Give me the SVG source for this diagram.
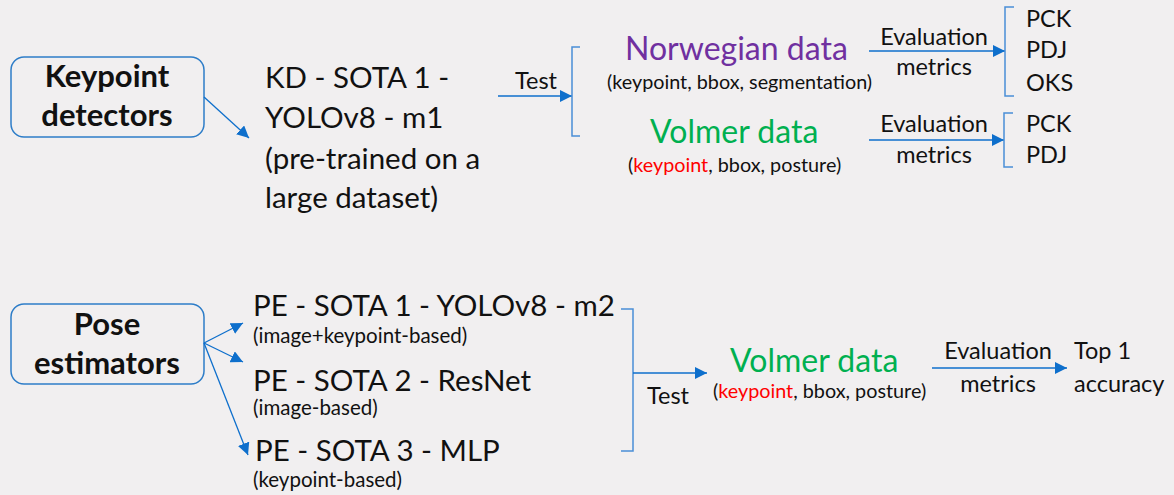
<svg xmlns="http://www.w3.org/2000/svg" width="1174" height="495" viewBox="0 0 1174 495">
<defs>
<marker id="ah" markerUnits="userSpaceOnUse" markerWidth="14" markerHeight="12" refX="12" refY="6" orient="auto">
<path d="M0,0 L12,6 L0,12 Z" fill="#0E6FCC"/>
</marker>
<style>
text{font-family:Lato,"Noto Sans",sans-serif;fill:#111;}
.big{font-size:29.5px;}
.sub{font-size:20.5px;}
.dsub{font-size:19.8px;}
.mid{font-size:23.5px;}
.col{font-size:32px;}
.box{fill:none;stroke:#2E7DC8;stroke-width:1.5;}
.bt{font-size:31px;font-weight:bold;text-anchor:middle;}
.arr{stroke:#0E6FCC;stroke-width:1.3;fill:none;marker-end:url(#ah);}
.br{stroke:#4A8FD6;stroke-width:1.5;fill:none;}
.purple{fill:#7030A0;}
.green{fill:#00B050;}
.red{fill:#FF0000;}
.c{text-anchor:middle;}
</style>
</defs>
<rect width="1174" height="495" fill="#F1EFF0"/>

<g id="keypoint-detectors">
<rect class="box" x="11" y="57" width="193" height="80" rx="13"/>
<text class="bt" x="107" y="87">Keypoint</text>
<text class="bt" x="107" y="126">detectors</text>
</g>

<g id="kd-sota1">
<text class="big" x="265" y="88">KD - SOTA 1 -</text>
<text class="big" x="265" y="128">YOLOv8 - m1</text>
<text class="big" x="265" y="169">(pre-trained on a</text>
<text class="big" x="265" y="208">large dataset)</text>
</g>

<g id="test-top">
<text class="mid" x="515" y="89">Test</text>
</g>

<g id="norwegian-data">
<text class="purple col" x="625" y="60">Norwegian data</text>
<text class="dsub" x="607" y="89">(keypoint, bbox, segmentation)</text>
</g>

<g id="volmer-data-top">
<text class="green col" x="650" y="143">Volmer data</text>
<text class="dsub" x="628" y="172">(<tspan class="red">keypoint</tspan>, bbox, posture)</text>
</g>

<g id="eval-1">
<text class="mid c" x="934" y="45">Evaluation</text>
<text class="mid c" x="934" y="75">metrics</text>
</g>
<g id="metrics-1">
<text class="mid" x="1026" y="27">PCK</text>
<text class="mid" x="1026" y="58">PDJ</text>
<text class="mid" x="1026" y="91">OKS</text>
</g>

<g id="eval-2">
<text class="mid c" x="934" y="132">Evaluation</text>
<text class="mid c" x="934" y="163">metrics</text>
</g>
<g id="metrics-2">
<text class="mid" x="1026" y="132">PCK</text>
<text class="mid" x="1026" y="163">PDJ</text>
</g>

<g id="pose-estimators">
<rect class="box" x="11" y="304" width="193" height="80" rx="13"/>
<text class="bt" x="107" y="335">Pose</text>
<text class="bt" x="107" y="374">estimators</text>
</g>

<g id="pe-sota1">
<text class="big" x="253" y="316">PE - SOTA 1 - YOLOv8 - m2</text>
<text class="sub" x="253" y="343">(image+keypoint-based)</text>
</g>
<g id="pe-sota2">
<text class="big" x="253" y="391">PE - SOTA 2 - ResNet</text>
<text class="sub" x="253" y="415">(image-based)</text>
</g>
<g id="pe-sota3">
<text class="big" x="255" y="461">PE - SOTA 3 - MLP</text>
<text class="sub" x="253" y="487">(keypoint-based)</text>
</g>

<g id="test-bottom">
<text class="mid" x="647" y="404">Test</text>
</g>

<g id="volmer-data-bottom">
<text class="green col" x="730" y="372">Volmer data</text>
<text class="dsub" x="713" y="398">(<tspan class="red">keypoint</tspan>, bbox, posture)</text>
</g>

<g id="eval-3">
<text class="mid c" x="998" y="359">Evaluation</text>
<text class="mid c" x="998" y="392">metrics</text>
</g>
<g id="top1">
<text class="mid" x="1074" y="359">Top 1</text>
<text class="mid" x="1074" y="392">accuracy</text>
</g>

<g id="connectors">
<line class="arr" x1="204" y1="97" x2="249" y2="138"/>
<line class="arr" x1="498" y1="96" x2="572" y2="96"/>
<path class="br" d="M580,47 H572 V136 H580"/>
<line class="arr" x1="869" y1="51" x2="1005" y2="51"/>
<path class="br" d="M1014,7 H1005 V96 H1014"/>
<line class="arr" x1="869" y1="140" x2="1004" y2="140"/>
<path class="br" d="M1013,113 H1004 V167 H1013"/>
<line class="arr" x1="204" y1="343" x2="243" y2="323"/>
<line class="arr" x1="204" y1="343" x2="243" y2="362"/>
<line class="arr" x1="204" y1="343" x2="248" y2="455"/>
<path class="br" d="M621,309 H633 V451 H621"/>
<line class="arr" x1="633" y1="373" x2="707" y2="373"/>
<line class="arr" x1="932" y1="368" x2="1067" y2="368"/>
</g>
</svg>
